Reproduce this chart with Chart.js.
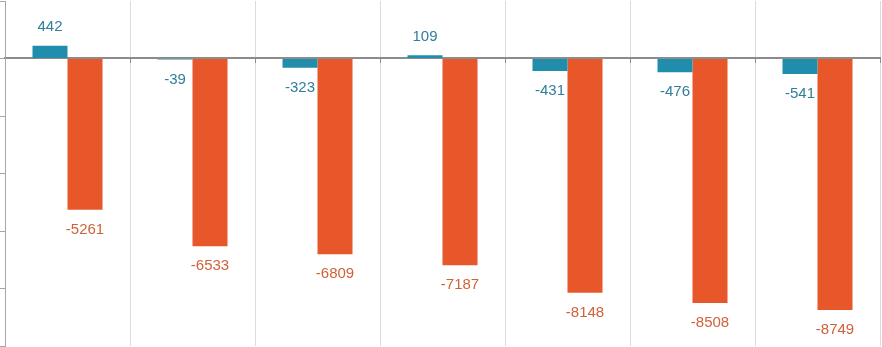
<!DOCTYPE html>
<html>
<head>
<meta charset="utf-8">
<script src="https://cdn.jsdelivr.net/npm/chart.js@4"></script>
<style>
  html, body { margin: 0; padding: 0; background: #ffffff; }
  #wrap { width: 882px; height: 347px; position: relative; }
</style>
</head>
<body>
<div id="wrap"><canvas id="c" width="882" height="347"></canvas></div>
<script>
const categories = ["1", "2", "3", "4", "5", "6", "7"];
const seriesA = [442, -39, -323, 109, -431, -476, -541];
const seriesB = [-5261, -6533, -6809, -7187, -8148, -8508, -8749];
const yTicks = [2000, 0, -2000, -4000, -6000, -8000, -10000];

const colorA = '#1f8dab';
const colorB = '#e8572a';
const labelColorA = '#2f7e9b';
const labelColorB = '#cf6238';

const labelPlugin = {
  id: 'valueLabels',
  afterDatasetsDraw(chart) {
    const ctx = chart.ctx;
    ctx.save();
    ctx.font = '15px "Liberation Sans", Arial, sans-serif';
    ctx.textAlign = 'center';
    ctx.textBaseline = 'middle';
    chart.data.datasets.forEach((ds, di) => {
      const meta = chart.getDatasetMeta(di);
      ctx.fillStyle = ds.labelColor;
      meta.data.forEach((bar, i) => {
        const v = ds.data[i];
        const y = v >= 0 ? bar.y - 19 : bar.y + 20;
        ctx.fillText(String(v), bar.x, y);
      });
    });
    ctx.restore();
  }
};

new Chart(document.getElementById('c'), {
  type: 'bar',
  data: {
    labels: categories,
    datasets: [
      { data: seriesA, backgroundColor: colorA, labelColor: labelColorA },
      { data: seriesB, backgroundColor: colorB, labelColor: labelColorB }
    ]
  },
  options: {
    responsive: false,
    animation: false,
    layout: { padding: { top: 1, right: 2, bottom: 1, left: 0 } },
    plugins: { legend: { display: false }, tooltip: { enabled: false } },
    datasets: { bar: { categoryPercentage: 0.56, barPercentage: 1.0 } },
    scales: {
      x: {
        position: { y: 0 },
        ticks: { display: false },
        grid: { offset: true, color: '#dcdcdc', lineWidth: 1, drawTicks: true, tickLength: 4, tickColor: '#8c8c8c' },
        border: { display: true, color: '#8c8c8c', width: 2 }
      },
      y: {
        min: -10000,
        max: 2000,
        afterBuildTicks(scale) { scale.ticks = yTicks.map(v => ({ value: v })); },
        ticks: { display: false },
        grid: { drawOnChartArea: false, drawTicks: true, tickLength: 5, color: '#a6a6a6' },
        border: { display: true, color: '#a6a6a6', width: 1 }
      }
    }
  },
  plugins: [labelPlugin]
});
</script>
</body>
</html>
